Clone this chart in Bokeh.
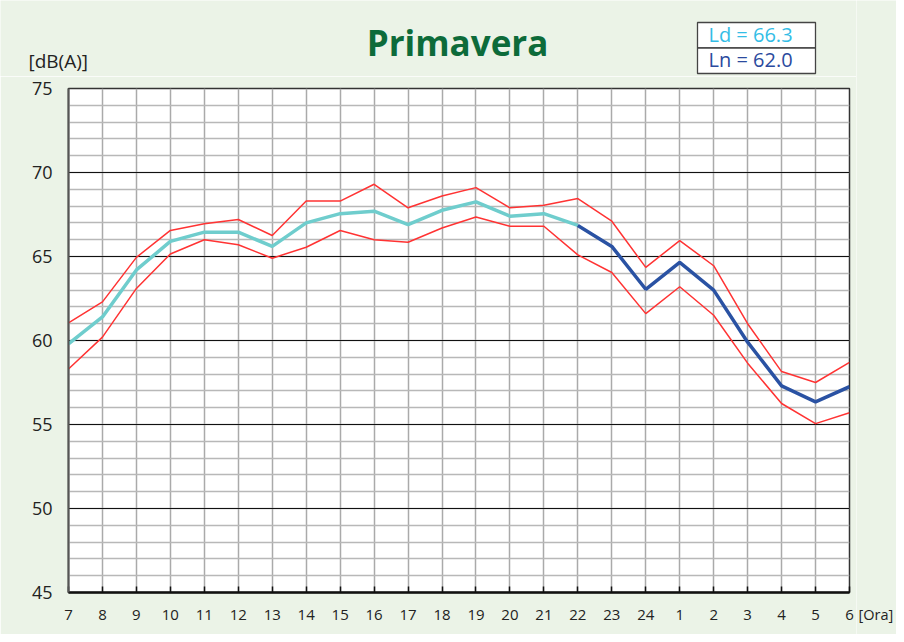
from bokeh.plotting import figure
from bokeh.models import FixedTicker, Range1d
from bokeh.layouts import column, row
from bokeh.core.properties import value
from bokeh.embed import file_html
from bokeh.resources import INLINE

# ---- data ----
hours = ["7", "8", "9", "10", "11", "12", "13", "14", "15", "16", "17", "18",
         "19", "20", "21", "22", "23", "24", "1", "2", "3", "4", "5", "6"]
mean_level = [59.8, 61.4, 64.2, 65.9, 66.45, 66.45, 65.6, 67.0, 67.55, 67.7, 66.9, 67.75,
              68.25, 67.4, 67.55, 66.85, 65.6, 63.05, 64.65, 63.0, 59.9, 57.3, 56.35, 57.25]
upper_level = [61.05, 62.3, 64.95, 66.55, 66.95, 67.2, 66.25, 68.3, 68.3, 69.3, 67.9, 68.6,
               69.1, 67.9, 68.05, 68.45, 67.1, 64.35, 65.95, 64.45, 61.0, 58.15, 57.5, 58.7]
lower_level = [58.3, 60.2, 63.1, 65.15, 66.0, 65.7, 64.9, 65.55, 66.55, 66.0, 65.85, 66.7,
               67.35, 66.8, 66.8, 65.1, 64.05, 61.6, 63.2, 61.5, 58.65, 56.25, 55.05, 55.7]
day_end = 15  # index of hour "22": day period 7-22, night period 22-6
y_major = [45, 50, 55, 60, 65, 70, 75]
y_minor = list(range(45, 76))
title_text = "Primavera"
y_unit = "[dB(A)]"
x_unit = "[Ora]"
ld_text = "Ld = 66.3"
ln_text = "Ln = 62.0"

x = list(range(len(hours)))

BG = "#EBF3E7"
FONT = "Open Sans"
TOTAL_W, TOTAL_H = 896, 634
HEAD_H = 76
MAIN_W = 856
SIDE_W = TOTAL_W - MAIN_W
BODY_H = TOTAL_H - HEAD_H


def blank(width, height):
    f = figure(width=width, height=height, output_backend="svg", toolbar_location=None,
               x_range=Range1d(0, width), y_range=Range1d(height, 0),
               x_axis_type=None, y_axis_type=None, min_border=0,
               background_fill_color=BG, border_fill_color=BG)
    f.outline_line_color = None
    f.frame_align = False
    return f


# ---- header: title, unit label, Ld/Ln boxes ----
head = blank(MAIN_W, HEAD_H)
head.text(x=[457], y=[42], text=[title_text], text_font=value(FONT), text_font_style="bold",
          text_font_size="35px", text_color="#0d6b3a", text_align="center",
          text_baseline="middle")
head.text(x=[28], y=[60], text=[y_unit], text_font=value(FONT), text_font_size="19px",
          text_color="#222222", text_align="left", text_baseline="middle")
head.quad(left=[697, 697], right=[815, 815], top=[22, 47.5], bottom=[47.5, 73],
          fill_color="white", line_color="#444444", line_width=1.3)
head.text(x=[708, 708], y=[34, 59], text=[ld_text, ln_text], text_font=value(FONT),
          text_font_size="20px", text_color=["#33bde6", "#2b4a9e"], text_align="left",
          text_baseline="middle")

# ---- main chart ----
p = figure(width=MAIN_W, height=BODY_H, output_backend="svg", toolbar_location=None,
           x_range=(0, len(hours) - 1), y_range=(45, 75),
           min_border_left=68, min_border_right=7, min_border_top=12, min_border_bottom=42,
           background_fill_color="white", border_fill_color=BG)
p.outline_line_color = "#333333"
p.outline_line_width = 1.5
p.frame_align = False

p.xgrid.ticker = FixedTicker(ticks=x)
p.xgrid.grid_line_color = "#aaaaaa"
p.xgrid.grid_line_width = 1.5
p.ygrid.ticker = FixedTicker(ticks=y_major, minor_ticks=y_minor)
p.ygrid.minor_grid_line_color = "#b8b8b8"
p.ygrid.minor_grid_line_width = 1.5
p.ygrid.grid_line_color = "#111111"
p.ygrid.grid_line_width = 1.2

p.xaxis.ticker = FixedTicker(ticks=x)
p.xaxis.major_label_overrides = {i: h for i, h in enumerate(hours)}
p.xaxis.major_tick_in = 6
p.xaxis.major_tick_out = 0
p.xaxis.major_tick_line_color = "#111111"
p.xaxis.major_tick_line_width = 1.5
p.xaxis.minor_tick_line_color = None
p.xaxis.axis_line_color = "#111111"
p.xaxis.axis_line_width = 2.5
p.xaxis.major_label_text_font = FONT
p.xaxis.major_label_text_font_size = "15px"
p.xaxis.major_label_text_color = "#222222"
p.xaxis.major_label_standoff = 17

p.yaxis.ticker = FixedTicker(ticks=y_major)
p.yaxis.major_tick_line_color = None
p.yaxis.minor_tick_line_color = None
p.yaxis.axis_line_color = "#555555"
p.yaxis.axis_line_width = 2
p.yaxis.major_label_text_font = FONT
p.yaxis.major_label_text_font_size = "18px"
p.yaxis.major_label_text_color = "#222222"
p.yaxis.major_label_standoff = 10

p.line(x, upper_level, line_color="#ff3333", line_width=1.5)
p.line(x, lower_level, line_color="#ff3333", line_width=1.5)
p.line(x[:day_end + 1], mean_level[:day_end + 1], line_color="#6fcdcd", line_width=3.5)
p.line(x[day_end:], mean_level[day_end:], line_color="#2a52a3", line_width=3.5)

# ---- right strip (full height) with the x unit ----
side = blank(SIDE_W, TOTAL_H)
side.text(x=[2], y=[614], text=[x_unit], text_font=value(FONT), text_font_size="14.5px",
          text_color="#222222", text_align="left", text_baseline="middle")

layout = row(column(head, p, spacing=0), side, spacing=0)
open("out.html", "w").write(file_html(layout, INLINE))
